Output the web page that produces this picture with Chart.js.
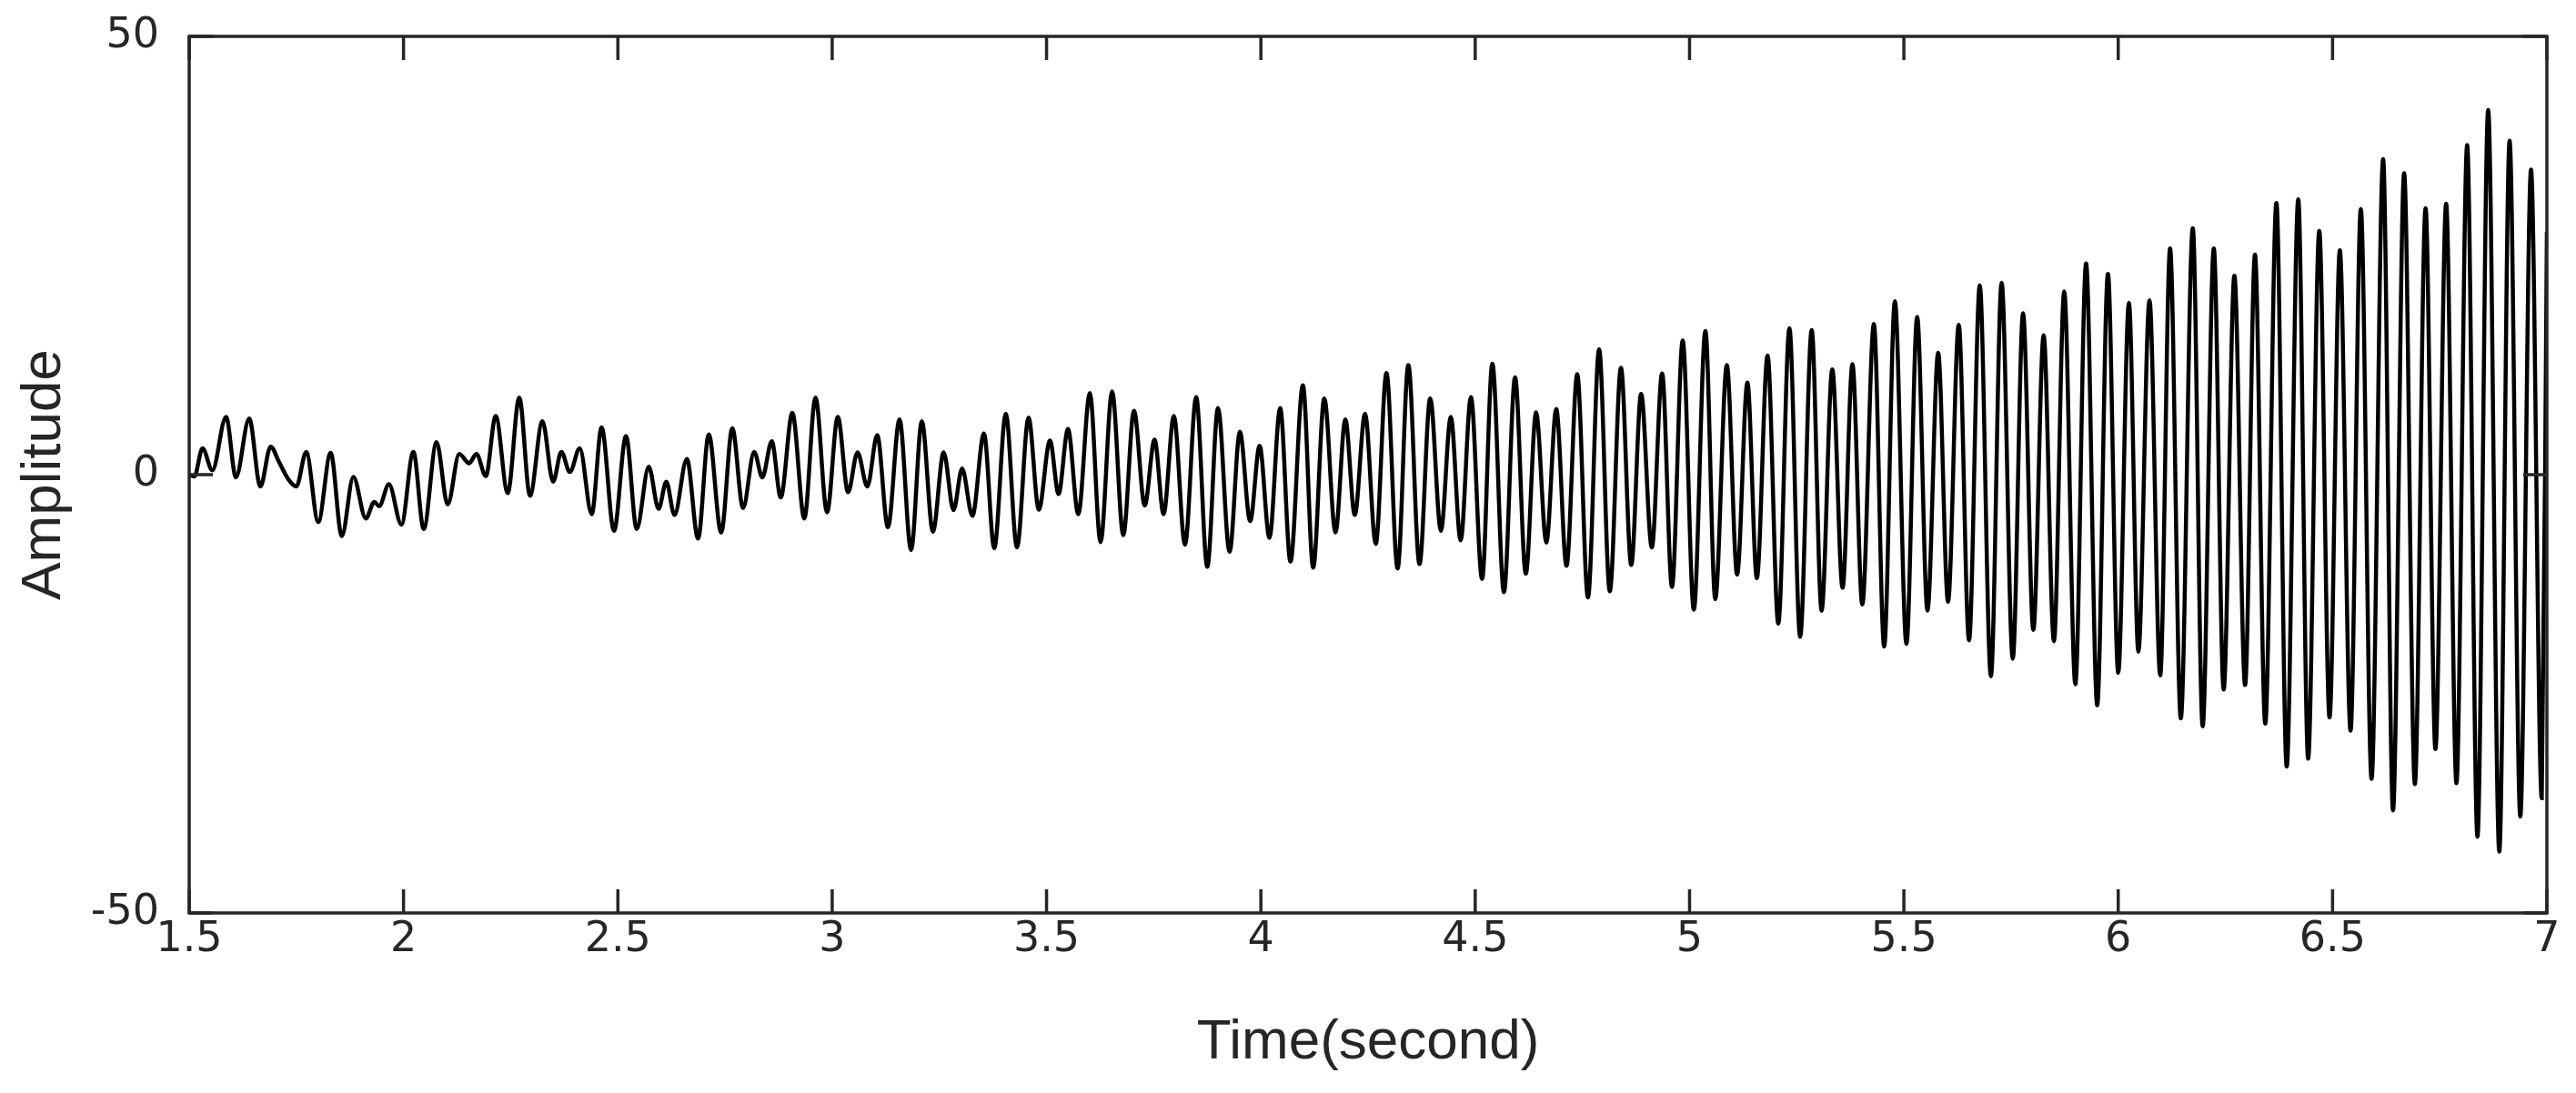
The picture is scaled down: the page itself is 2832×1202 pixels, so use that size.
<!DOCTYPE html>
<html><head><meta charset="utf-8">
<script src="https://cdn.jsdelivr.net/npm/chart.js@4.4.1/dist/chart.umd.min.js"></script>
<style>html,body{margin:0;padding:0;background:#fff;overflow:hidden}canvas{display:block}</style>
</head><body>
<canvas id="c" width="2832" height="1202"></canvas>
<script>
// Time (s) of each turning point
const times = [
  1.500,1.512,1.531,1.554,1.586,1.609,1.640,1.666,1.690,1.709,1.731,1.750,1.773,1.801,1.830,1.856,1.883,1.912,1.932,1.943,1.966,1.995,
  2.023,2.047,2.077,2.103,2.130,2.153,2.170,2.192,2.215,2.243,2.270,2.295,2.324,2.349,2.368,2.388,2.411,2.439,2.462,2.491,
  2.519,2.544,2.572,2.595,2.613,2.632,2.661,2.687,2.712,2.741,2.767,2.792,2.818,2.837,2.859,2.880,2.907,2.935,2.961,2.988,
  3.013,3.037,3.059,3.082,3.105,3.130,3.157,3.184,3.209,3.235,3.260,3.283,3.303,3.327,3.354,3.378,3.405,3.431,3.458,3.482,
  3.508,3.528,3.550,3.574,3.601,3.626,3.653,3.679,3.704,3.729,3.752,3.773,3.797,3.823,3.849,3.875,3.900,3.927,3.951,3.975,
  3.997,4.020,4.045,4.069,4.098,4.122,4.148,4.174,4.197,4.219,4.243,4.268,4.293,4.319,4.344,4.370,4.395,4.420,4.443,4.466,4.490,
  4.516,4.540,4.567,4.593,4.618,4.642,4.666,4.689,4.713,4.738,4.763,4.789,4.814,4.840,4.864,4.887,4.912,4.936,4.959,4.984,
  5.010,5.037,5.060,5.087,5.111,5.135,5.157,5.182,5.207,5.233,5.258,5.285,5.308,5.333,5.357,5.380,5.403,5.430,5.454,5.479,
  5.506,5.531,5.555,5.580,5.603,5.628,5.652,5.677,5.703,5.728,5.754,5.778,5.802,5.826,5.850,5.874,5.900,5.925,5.951,5.976,
  6.000,6.025,6.047,6.073,6.098,6.121,6.146,6.174,6.197,6.223,6.246,6.271,6.296,6.319,6.343,6.369,6.393,6.420,6.443,6.469,
  6.493,6.517,6.542,6.566,6.591,6.618,6.641,6.667,6.692,6.717,6.740,6.765,6.789,6.814,6.838,6.863,6.889,6.913,6.938,6.963,6.988,7.000
];
// Amplitude at each of those points
const amplitudes = [
  0.0,-0.2,3.0,0.5,6.6,-0.3,6.4,-1.35,3.2,1.5,-0.5,-1.35,2.6,-5.4,2.5,-7.0,-0.25,-5.0,-3.1,-3.6,-1.1,-5.7,
  2.6,-6.2,3.7,-3.4,2.35,1.3,2.35,-0.15,6.7,-2.1,8.8,-2.4,6.1,-0.8,2.6,0.3,3.0,-4.5,5.4,-6.4,
  4.4,-6.2,0.9,-3.9,-0.8,-4.6,1.8,-7.3,4.6,-6.6,5.3,-3.8,2.6,-0.3,3.8,-2.6,7.05,-5.0,8.8,-4.3,
  6.6,-2.0,2.55,-1.35,4.5,-6.0,6.3,-8.6,6.1,-6.5,2.55,-4.05,0.7,-4.7,4.7,-8.4,6.95,-8.3,6.5,-4.0,
  3.9,-2.2,5.2,-4.5,9.3,-7.7,9.5,-6.9,7.3,-3.5,4.0,-4.5,6.7,-8.0,8.85,-10.5,7.6,-8.8,4.9,-5.3,
  3.3,-7.2,7.6,-9.9,10.2,-10.6,8.7,-6.6,6.3,-4.6,6.95,-7.9,11.6,-10.7,12.5,-10.2,8.7,-6.4,6.6,-7.5,8.85,
  -11.9,12.65,-13.4,11.1,-11.3,7.1,-7.75,7.5,-10.4,11.45,-14.0,14.3,-13.3,12.2,-10.3,9.2,-8.3,11.55,-12.8,15.3,
  -15.4,16.4,-14.2,12.5,-11.4,10.5,-11.8,13.6,-17.0,16.7,-18.5,16.5,-15.5,12.0,-12.9,12.6,-14.8,17.2,-19.6,19.8,
  -19.3,18.0,-15.5,13.9,-14.5,17.1,-18.9,21.6,-23.0,21.9,-21.0,18.4,-17.7,15.9,-19.0,20.9,-23.9,24.1,-26.3,22.9,
  -22.6,19.6,-20.2,19.9,-22.9,25.8,-27.8,28.1,-28.7,25.8,-24.5,22.7,-24.0,25.1,-28.4,31.0,-33.3,31.4,-32.4,27.8,
  -27.7,25.6,-29.2,30.3,-34.7,36.0,-38.3,34.4,-35.3,30.4,-31.3,30.9,-35.2,37.6,-41.3,41.6,-43.0,38.1,-39.0,34.8,-36.9,27.7
];
const xTicks = [1.5,2,2.5,3,3.5,4,4.5,5,5.5,6,6.5,7];
const yTicks = [-50,0,50];
const xTitle = 'Time(second)';
const yTitle = 'Amplitude';

const AX = '#262626';
const TITLE_FONT = '"Liberation Sans", Arial, Helvetica, sans-serif';
const TICK_FONT = '"DejaVu Sans", "Liberation Sans", Arial, sans-serif';

const framePlugin = {
  id: 'frame',
  afterDatasetsDraw(chart) {
    const {ctx, chartArea: {left, right, top, bottom}, scales: {x, y}} = chart;
    ctx.save();
    ctx.strokeStyle = AX;
    ctx.lineWidth = 3.5;
    const L = 26;
    ctx.beginPath();
    xTicks.forEach(v => {
      const px = x.getPixelForValue(v);
      ctx.moveTo(px, bottom); ctx.lineTo(px, bottom - L);
      ctx.moveTo(px, top); ctx.lineTo(px, top + L);
    });
    yTicks.forEach(v => {
      const py = y.getPixelForValue(v);
      ctx.moveTo(left, py); ctx.lineTo(left + L, py);
      ctx.moveTo(right, py); ctx.lineTo(right - L, py);
    });
    ctx.stroke();
    ctx.strokeRect(left, top, right - left, bottom - top);
    ctx.restore();
  }
};

new Chart(document.getElementById('c'), {
  type: 'line',
  data: {
    datasets: [{
      data: times.map((t, i) => ({x: t, y: amplitudes[i]})),
      borderColor: '#000',
      borderWidth: 4.5,
      pointRadius: 0,
      cubicInterpolationMode: 'monotone',
      fill: false
    }]
  },
  options: {
    responsive: false,
    animation: false,
    devicePixelRatio: 1,
    layout: {padding: {top: 40, right: 32, left: 0, bottom: 0}},
    plugins: {legend: {display: false}, tooltip: {enabled: false}},
    scales: {
      x: {
        type: 'linear', min: 1.5, max: 7,
        afterBuildTicks: s => { s.ticks = xTicks.map(v => ({value: v})); },
        afterFit: s => { s.height = 198; s.paddingLeft = 0; s.paddingRight = 0; },
        grid: {display: false, drawTicks: false}, border: {display: false},
        ticks: {color: AX, font: {family: TICK_FONT, size: 46}, padding: 2, maxRotation: 0, autoSkip: false,
                callback: v => String(v)},
        title: {display: true, text: xTitle, color: AX, font: {family: TITLE_FONT, size: 62}, padding: {top: 0, bottom: 18}}
      },
      y: {
        type: 'linear', min: -50, max: 50,
        afterBuildTicks: s => { s.ticks = yTicks.map(v => ({value: v})); },
        afterFit: s => { s.width = 208; s.paddingTop = 0; s.paddingBottom = 0; },
        grid: {display: false, drawTicks: false}, border: {display: false},
        ticks: {color: AX, font: {family: TICK_FONT, size: 46}, padding: 33, autoSkip: false,
                callback: v => String(v)},
        title: {display: true, text: yTitle, color: AX, font: {family: TITLE_FONT, size: 62}, padding: {top: 12, bottom: 0}}
      }
    }
  },
  plugins: [framePlugin]
});
</script>
</body></html>
